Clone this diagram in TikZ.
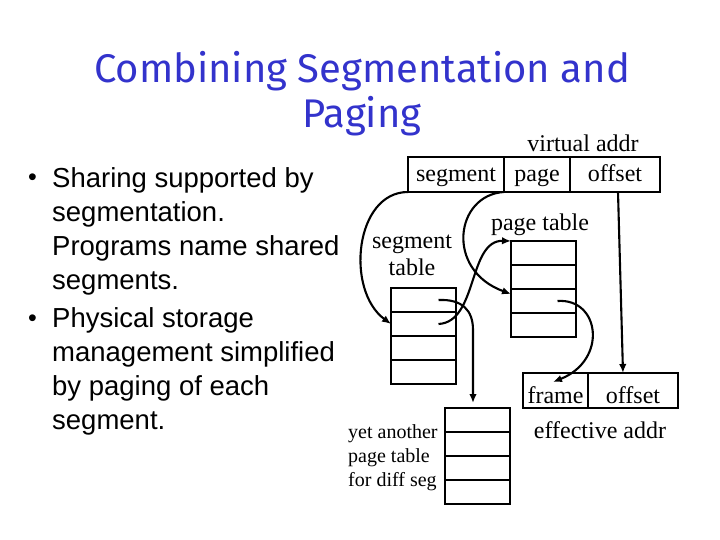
\documentclass[tikz,border=0pt]{standalone}
\usepackage{fontspec}
\setmainfont{Liberation Serif}
\newfontfamily\bodyfont{Liberation Sans}
\newfontfamily\titlefont{Fira Sans}
\usetikzlibrary{arrows.meta,positioning}
\definecolor{TitleBlue}{RGB}{51,51,204}

\begin{document}
\begin{tikzpicture}[x=1pt, y=-1pt,
    cell/.style={draw, line width=2.6pt, outer sep=0pt, inner sep=0pt,
                 minimum width=65pt, minimum height=24pt},
    field/.style={draw, line width=2.6pt, outer sep=0pt, inner sep=0pt,
                  minimum height=35pt, font=\fontsize{24}{28}\selectfont,
                  text height=16pt, text depth=1pt},
    lowfield/.style={field, text height=26pt},
    lbl/.style={inner sep=0pt, anchor=base, font=\fontsize{24}{27}\selectfont},
    bullettext/.style={inner sep=0pt, anchor=base west, align=left,
                       font=\bodyfont\fontsize{27.5}{34}\selectfont},
    dotmark/.style={inner sep=0pt, anchor=base west, font=\bodyfont\fontsize{25}{30}\selectfont},
    arr/.style={-{Latex[length=9pt,width=7.5pt]}, line width=2.1pt}
]
    \useasboundingbox (0,0) rectangle (720,540);

    % title and bullets (multi-line nodes sit on their last baseline)
    \node[inner sep=0pt, anchor=base, align=center, text=TitleBlue,
          font=\titlefont\fontsize{40}{45}\selectfont] (title) at (362,128)
          {Combining Segmentation and\\Paging};
    \node[dotmark] (dot1) at (28,186) {•};
    \node[bullettext] (bul1) at (52,289) {Sharing supported by\\segmentation.\\Programs name shared\\segments.};
    \node[dotmark] (dot2) at (28,326) {•};
    \node[bullettext] (bul2) at (52,429) {Physical storage\\management simplified\\by paging of each\\segment.};

    % virtual address
    \node[field, minimum width=96pt] (vseg) at (456,174.5) {segment};
    \node[field, minimum width=66pt, right=0pt of vseg] (vpage) {page};
    \node[field, minimum width=90pt, right=0pt of vpage] (voff) {offset};
    \node[lbl] (vlbl) at (583,152) {virtual addr};

    % tables
    \node[cell] (seg1) at (423.5,300) {};
    \node[cell] (pt1) at (543.5,253) {};
    \node[cell] (yp1) at (477.5,420) {};
    \foreach \i/\j in {1/2,2/3,3/4} {
        \node[cell, below=0pt of seg\i] (seg\j) {};
        \node[cell, below=0pt of pt\i] (pt\j) {};
        \node[cell, below=0pt of yp\i] (yp\j) {};
    }
    \node[lbl, align=center] (seglbl) at (412,275) {segment\\table};
    \node[lbl] (ptlbl) at (540,230) {page table};
    \node[lbl, anchor=base west, align=left, font=\fontsize{20}{24}\selectfont] (yplbl)
          at (348,486) {yet another\\page table\\for diff seg};

    % effective address
    \node[lowfield, minimum width=65pt] (efr) at (555.5,390.5) {frame};
    \node[lowfield, minimum width=90pt, right=0pt of efr] (eoff) {offset};
    \node[lbl] (elbl) at (600,438) {effective addr};

    % connectors
    \coordinate (ybend) at (473,330);
    \draw[arr] (vseg.south west) .. controls (355,192) and (345,290) .. (seg2.west);
    \draw[arr] (vpage.south west) .. controls (455,195) and (445,270) .. ([yshift=-5pt]pt3.north west);
    \draw[arr] ([xshift=15pt]seg2.center) .. controls (478,322) and (468,240) .. (pt1.north west);
    \draw[arr, shorten >=5pt] ([xshift=15pt]seg1.center) .. controls (462,299) and (473,310) .. (ybend) -- (yp1.north -| ybend);
    \draw[arr] ([xshift=14pt]pt3.center) .. controls (600,298) and (608,360) .. ([xshift=-2.5pt,yshift=-9pt]efr.north);
    \draw[arr] ([xshift=3pt]voff.south) -- ([xshift=-10pt]eoff.north);
\end{tikzpicture}
\end{document}
